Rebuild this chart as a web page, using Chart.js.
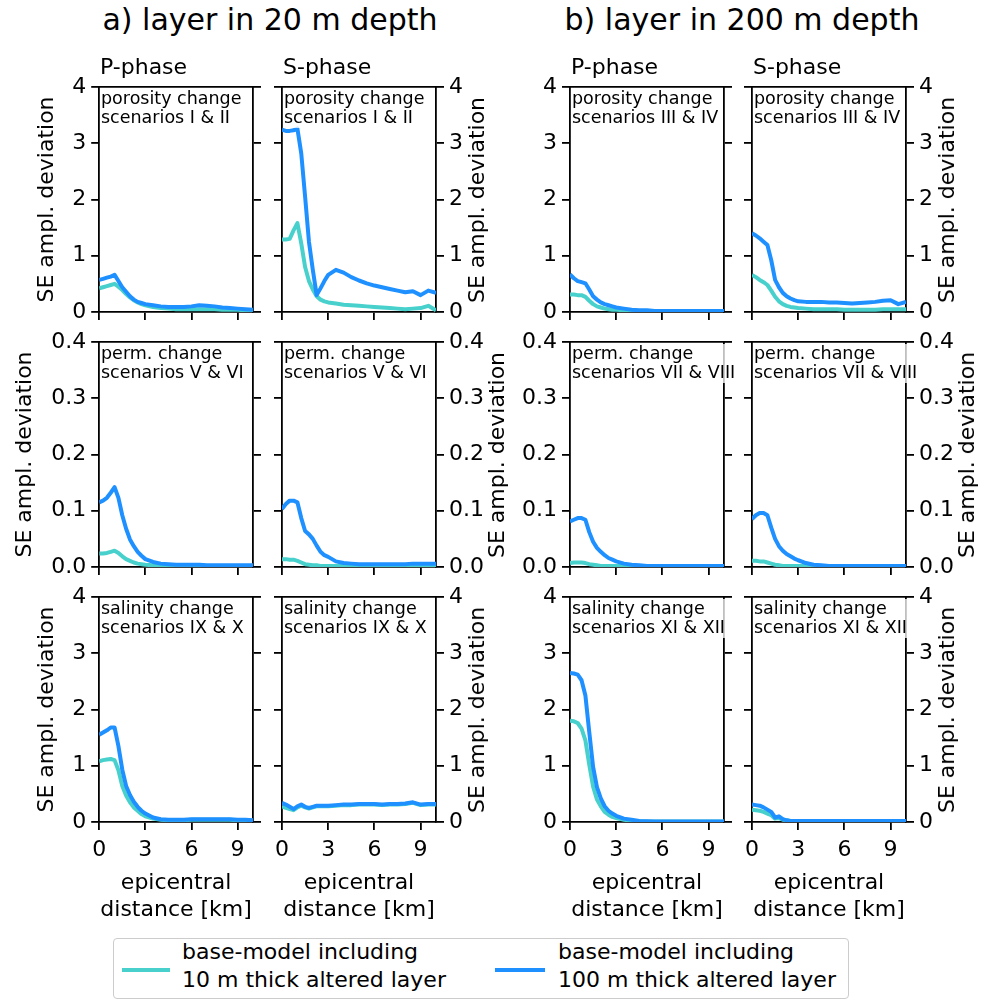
<!DOCTYPE html>
<html>
<head>
<meta charset="utf-8">
<script src="https://cdn.jsdelivr.net/npm/chart.js@4.4.1/dist/chart.umd.min.js"></script>
<style>
  body { margin: 0; width: 993px; height: 1003px; position: relative; background: #fff;
         font-family: "DejaVu Sans", sans-serif; color: #000; overflow: hidden; }
  canvas { position: absolute; }
  .txt { position: absolute; white-space: nowrap; }
  .head { font-size: 30px; line-height: 36px; text-align: center; width: 420px; }
  .phase { font-size: 22px; line-height: 26px; }
  .note { font-size: 17.5px; line-height: 19.5px; background: rgba(255,255,255,0.75); }
  .ylab { font-size: 22px; line-height: 26px; transform: translate(-50%, -50%) rotate(-90deg); }
  .legend { position: absolute; left: 113px; top: 938px; width: 736px; height: 61px;
            border: 1px solid #ccc; border-radius: 4px; box-sizing: border-box; }
  .lkey { position: absolute; height: 4px; }
  .ltxt { font-size: 22px; line-height: 28px; }
</style>
</head>
<body>
<script>
// epicentral distance [km]
const distance = [0, 0.25, 0.5, 0.75, 1, 1.25, 1.5, 1.75, 2, 2.25, 2.5, 2.75, 3, 3.5, 4, 4.5, 5, 5.5, 6, 6.5, 7, 7.5, 8, 8.5, 9, 9.5, 10];
const xTicks = [0, 3, 6, 9];
const yTicksLarge = [0, 1, 2, 3, 4];
const yLabelsLarge = ["0", "1", "2", "3", "4"];
const yTicksSmall = [0, 0.1, 0.2, 0.3, 0.4];
const yLabelsSmall = ["0.0", "0.1", "0.2", "0.3", "0.4"];

// a) layer in 20 m depth  (_10 = 10 m thick altered layer, _100 = 100 m thick)
const porP20_10  = [0.42,0.44,0.46,0.48,0.50,0.45,0.39,0.32,0.26,0.21,0.17,0.14,0.12,0.09,0.07,0.06,0.05,0.05,0.05,0.05,0.05,0.05,0.04,0.04,0.04,0.03,0.03];
const porP20_100 = [0.57,0.59,0.61,0.63,0.66,0.55,0.44,0.36,0.28,0.22,0.18,0.16,0.14,0.12,0.10,0.09,0.09,0.09,0.10,0.12,0.11,0.10,0.08,0.07,0.06,0.05,0.04];
const porS20_10  = [1.29,1.29,1.30,1.45,1.58,1.22,0.80,0.55,0.40,0.28,0.22,0.19,0.17,0.15,0.13,0.12,0.11,0.10,0.09,0.08,0.07,0.06,0.05,0.06,0.07,0.11,0.03];
const porS20_100 = [3.24,3.22,3.22,3.23,3.26,2.82,2.05,1.25,0.75,0.30,0.42,0.55,0.66,0.75,0.70,0.62,0.56,0.51,0.47,0.44,0.41,0.38,0.35,0.37,0.30,0.38,0.34];
const permP20_10  = [0.024,0.024,0.025,0.027,0.029,0.025,0.019,0.014,0.011,0.008,0.006,0.005,0.004,0.003,0.003,0.002,0.002,0.002,0.002,0.002,0.002,0.002,0.002,0.002,0.002,0.002,0.002];
const permP20_100 = [0.115,0.118,0.123,0.132,0.142,0.123,0.092,0.068,0.049,0.037,0.027,0.020,0.014,0.009,0.006,0.005,0.004,0.004,0.004,0.004,0.003,0.003,0.003,0.003,0.003,0.003,0.003];
const permS20_10  = [0.014,0.014,0.013,0.013,0.011,0.008,0.005,0.004,0.003,0.003,0.002,0.002,0.002,0.002,0.002,0.002,0.002,0.002,0.002,0.002,0.002,0.002,0.002,0.002,0.002,0.002,0.002];
const permS20_100 = [0.103,0.112,0.118,0.118,0.115,0.087,0.064,0.058,0.050,0.038,0.027,0.021,0.018,0.010,0.007,0.006,0.005,0.005,0.005,0.005,0.005,0.005,0.005,0.006,0.006,0.006,0.006];
const salP20_10  = [1.08,1.10,1.11,1.12,1.10,0.92,0.64,0.47,0.35,0.26,0.20,0.14,0.10,0.06,0.04,0.03,0.03,0.03,0.04,0.04,0.04,0.04,0.04,0.04,0.03,0.03,0.02];
const salP20_100 = [1.55,1.59,1.63,1.68,1.68,1.35,0.93,0.64,0.48,0.36,0.27,0.20,0.15,0.08,0.05,0.04,0.04,0.04,0.05,0.05,0.05,0.05,0.05,0.05,0.04,0.04,0.03];
const salS20_10  = [0.28,0.25,0.23,0.21,0.26,0.29,0.26,0.24,0.26,0.28,0.28,0.28,0.28,0.29,0.30,0.30,0.31,0.31,0.31,0.30,0.31,0.31,0.32,0.34,0.30,0.31,0.31];
const salS20_100 = [0.34,0.31,0.27,0.23,0.28,0.31,0.27,0.25,0.27,0.29,0.29,0.29,0.29,0.30,0.31,0.31,0.32,0.32,0.32,0.31,0.32,0.32,0.33,0.35,0.31,0.32,0.32];

// b) layer in 200 m depth
const porP200_10  = [0.31,0.31,0.30,0.30,0.27,0.20,0.14,0.10,0.08,0.06,0.05,0.04,0.04,0.03,0.02,0.02,0.02,0.02,0.02,0.02,0.02,0.02,0.02,0.02,0.02,0.02,0.02];
const porP200_100 = [0.67,0.60,0.55,0.53,0.51,0.40,0.28,0.22,0.17,0.14,0.12,0.10,0.08,0.06,0.04,0.03,0.03,0.02,0.02,0.02,0.02,0.02,0.02,0.02,0.02,0.02,0.02];
const porS200_10  = [0.66,0.62,0.57,0.53,0.48,0.38,0.27,0.19,0.14,0.11,0.09,0.08,0.07,0.06,0.05,0.05,0.05,0.05,0.04,0.04,0.04,0.04,0.04,0.05,0.05,0.05,0.05];
const porS200_100 = [1.40,1.36,1.31,1.25,1.19,0.92,0.57,0.44,0.34,0.28,0.24,0.21,0.19,0.18,0.18,0.18,0.17,0.17,0.16,0.15,0.16,0.17,0.18,0.20,0.21,0.14,0.18];
const permP200_10  = [0.007,0.008,0.008,0.008,0.007,0.005,0.004,0.003,0.002,0.002,0.002,0.002,0.002,0.002,0.002,0.002,0.002,0.002,0.002,0.002,0.002,0.002,0.002,0.002,0.002,0.002,0.002];
const permP200_100 = [0.081,0.084,0.087,0.087,0.084,0.062,0.045,0.034,0.027,0.021,0.016,0.013,0.010,0.006,0.004,0.003,0.002,0.002,0.002,0.002,0.002,0.002,0.002,0.002,0.002,0.002,0.002];
const permS200_10  = [0.011,0.011,0.010,0.010,0.008,0.006,0.004,0.003,0.002,0.002,0.002,0.002,0.002,0.002,0.002,0.002,0.002,0.002,0.002,0.002,0.002,0.002,0.002,0.002,0.002,0.002,0.002];
const permS200_100 = [0.085,0.092,0.096,0.096,0.092,0.070,0.050,0.037,0.029,0.023,0.019,0.015,0.012,0.007,0.004,0.003,0.002,0.002,0.002,0.002,0.002,0.002,0.002,0.002,0.002,0.002,0.002];
const salP200_10  = [1.80,1.79,1.76,1.66,1.45,1.02,0.63,0.40,0.28,0.18,0.13,0.09,0.07,0.04,0.02,0.015,0.01,0.01,0.01,0.01,0.01,0.01,0.01,0.01,0.01,0.01,0.01];
const salP200_100 = [2.65,2.64,2.62,2.52,2.25,1.60,0.98,0.62,0.42,0.28,0.20,0.15,0.11,0.06,0.04,0.02,0.015,0.01,0.01,0.01,0.01,0.01,0.01,0.01,0.01,0.01,0.01];
const salS200_10  = [0.22,0.21,0.20,0.18,0.15,0.12,0.06,0.07,0.04,0.03,0.02,0.02,0.02,0.02,0.02,0.02,0.02,0.02,0.02,0.02,0.02,0.02,0.02,0.02,0.02,0.02,0.02];
const salS200_100 = [0.31,0.30,0.29,0.26,0.22,0.18,0.08,0.10,0.05,0.03,0.02,0.02,0.02,0.02,0.02,0.02,0.02,0.02,0.02,0.02,0.02,0.02,0.02,0.02,0.02,0.02,0.02];

const headers = ["a) layer in 20 m depth", "b) layer in 200 m depth"];
const phases = ["P-phase", "S-phase", "P-phase", "S-phase"];
const legendLabels = [["base-model including", "10 m thick altered layer"],
                      ["base-model including", "100 m thick altered layer"]];
const yTitle = "SE ampl. deviation";
const xTitle = ["epicentral", "distance [km]"];

// grid of panels: row = property, col = depth/phase
const panels = [
  [[porP20_10, porP20_100, "porosity change", "scenarios I & II"],
   [porS20_10, porS20_100, "porosity change", "scenarios I & II"],
   [porP200_10, porP200_100, "porosity change", "scenarios III & IV"],
   [porS200_10, porS200_100, "porosity change", "scenarios III & IV"]],
  [[permP20_10, permP20_100, "perm. change", "scenarios V & VI"],
   [permS20_10, permS20_100, "perm. change", "scenarios V & VI"],
   [permP200_10, permP200_100, "perm. change", "scenarios VII & VIII"],
   [permS200_10, permS200_100, "perm. change", "scenarios VII & VIII"]],
  [[salP20_10, salP20_100, "salinity change", "scenarios IX & X"],
   [salS20_10, salS20_100, "salinity change", "scenarios IX & X"],
   [salP200_10, salP200_100, "salinity change", "scenarios XI & XII"],
   [salS200_10, salS200_100, "salinity change", "scenarios XI & XII"]],
];

// Layout
const FONT = '"DejaVu Sans", sans-serif';
const TURQ = "#48d1cc";
const BLUE = "#1e90ff";
const COL_X = [99, 282, 570, 752];
const ROW_Y = [87, 342, 597];
const PW = 154, PH = 225;
const LEFT_TITLE_X = [47, 25, 47];       // centre of left y-title per row
const RIGHT_TITLE_DX = [41, 61, 41];     // right y-title centre from panel edge
const SPINE = 1.8;

Chart.defaults.font.family = FONT;
Chart.defaults.color = "#000";

function addText(cls, text, left, top) {
  const d = document.createElement("div");
  d.className = "txt " + cls;
  d.innerHTML = text;
  d.style.left = left + "px";
  d.style.top = top + "px";
  document.body.appendChild(d);
  return d;
}

function toPoints(arr) {
  return distance.map((x, i) => ({ x: x, y: arr[i] }));
}

function tickSetter(values) {
  return (s) => { s.ticks = values.map((v) => ({ value: v })); };
}

// fix axis box size, and drop the label overhang padding so the plot area is exact
function fixBox(w, h) {
  return (s) => {
    if (w !== null) s.width = w;
    if (h !== null) s.height = h;
    s.paddingTop = 0; s.paddingBottom = 0; s.paddingLeft = 0; s.paddingRight = 0;
  };
}

function makePanel(r, c) {
  const [thin, thick, note1, note2] = panels[r][c];
  const L = COL_X[c], T = ROW_Y[r];
  const onLeft = c % 2 === 0;
  const bottomRow = r === 2;
  const small = r === 1;
  const yMax = small ? 0.4 : 4;
  const yT = small ? yTicksSmall : yTicksLarge;
  const yL = small ? yLabelsSmall : yLabelsLarge;

  const topH = 16;
  const botH = bottomRow ? 101 : 16;
  const sideW = 10;
  let mainW, cx;
  if (c === 0) { cx = LEFT_TITLE_X[r] - 13.2; mainW = L - cx; }
  else if (onLeft) { mainW = 52; cx = L - mainW; }
  else { mainW = 52; cx = L - sideW; }
  const cw = Math.round(mainW + PW + sideW);
  const ch = topH + PH + botH;
  const cy = T - topH;

  const canvas = document.createElement("canvas");
  canvas.width = cw; canvas.height = ch;
  canvas.style.left = cx + "px"; canvas.style.top = cy + "px";
  canvas.style.width = cw + "px"; canvas.style.height = ch + "px";
  document.body.appendChild(canvas);

  const spine = { display: true, color: "#000", width: SPINE };
  const tickGrid = { drawOnChartArea: false, drawTicks: true, tickLength: 8, color: "#000", lineWidth: SPINE };
  const tickFont = { size: 22, family: FONT };

  new Chart(canvas, {
    type: "line",
    data: {
      datasets: [
        { label: legendLabels[1].join(" "), data: toPoints(thick), borderColor: BLUE,
          borderWidth: 4, pointRadius: 0, tension: 0, fill: false, borderJoinStyle: "round",
          xAxisID: "x", yAxisID: "y" },
        { label: legendLabels[0].join(" "), data: toPoints(thin), borderColor: TURQ,
          borderWidth: 4, pointRadius: 0, tension: 0, fill: false, borderJoinStyle: "round",
          xAxisID: "x", yAxisID: "y" },
      ],
    },
    options: {
      responsive: false,
      animation: false,
      devicePixelRatio: 1,
      events: [],
      layout: { padding: 0 },
      plugins: { legend: { display: false }, tooltip: { enabled: false } },
      scales: {
        x: {
          type: "linear", position: "bottom", min: 0, max: 10,
          afterBuildTicks: tickSetter(xTicks),
          afterFit: fixBox(null, botH),
          grid: tickGrid, border: spine,
          ticks: { display: bottomRow, font: tickFont, color: "#000", padding: 7, maxRotation: 0, autoSkip: false },
          title: { display: bottomRow, text: xTitle, font: { size: 22, family: FONT }, color: "#000", padding: 0 },
        },
        xTop: {
          type: "linear", position: "top", min: 0, max: 10,
          afterFit: fixBox(null, topH),
          grid: { display: false }, ticks: { display: false }, border: spine,
        },
        y: {
          type: "linear", position: onLeft ? "left" : "right", min: 0, max: yMax,
          afterBuildTicks: tickSetter(yT),
          afterFit: fixBox(mainW, null),
          grid: tickGrid, border: spine,
          ticks: { font: tickFont, color: "#000", padding: 5, callback: (v, i) => yL[i] },
          title: { display: c === 0, text: yTitle, font: { size: 22, family: FONT }, color: "#000", padding: 0 },
        },
        ySide: {
          type: "linear", position: onLeft ? "right" : "left", min: 0, max: yMax,
          afterBuildTicks: tickSetter(yT),
          afterFit: fixBox(sideW, null),
          grid: tickGrid, border: spine,
          ticks: { display: false },
        },
      },
    },
  });

  addText("note", note1 + "<br>" + note2, L + 2, T + 1.5);
  if (!onLeft) {
    addText("ylab", yTitle, L + PW + RIGHT_TITLE_DX[r], T + PH / 2);
  }
}

for (let r = 0; r < 3; r++) {
  for (let c = 0; c < 4; c++) makePanel(r, c);
}

// headers
addText("head", headers[0], 270 - 210, 2);
addText("head", headers[1], 742 - 210, 2);
phases.forEach((p, c) => addText("phase", p, COL_X[c] + 1, 54));

// legend
const lg = document.createElement("div");
lg.className = "legend";
document.body.appendChild(lg);
[[TURQ, 122, 48, 182], [BLUE, 495, 50, 558]].forEach(([col, lx, lw, tx], i) => {
  const k = document.createElement("div");
  k.className = "lkey";
  k.style.background = col;
  k.style.left = lx + "px"; k.style.width = lw + "px"; k.style.top = "968px";
  document.body.appendChild(k);
  addText("ltxt", legendLabels[i].join("<br>"), tx, 938);
});
</script>
</body>
</html>
